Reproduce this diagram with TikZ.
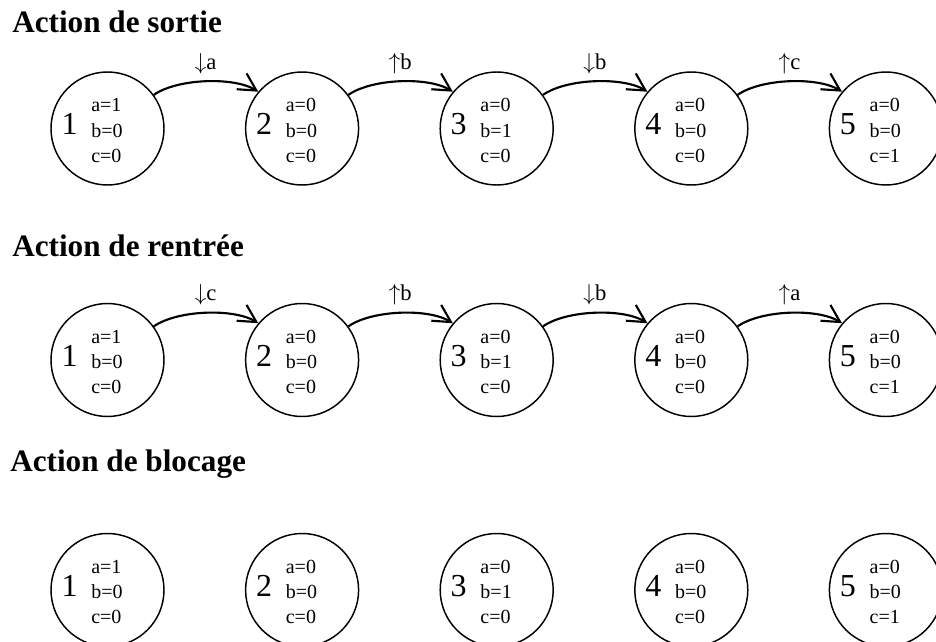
\documentclass[tikz,border=0pt]{standalone}
\usepackage{fontspec}
\setmainfont{Liberation Serif}
\usetikzlibrary{calc,arrows.meta}

\begin{document}
\begin{tikzpicture}[x=0.75pt, y=0.75pt,
    state/.style={circle, draw, line width=1.1pt, minimum size=84.75pt, inner sep=0pt},
    num/.style={anchor=base, font=\fontsize{24}{24}\selectfont, inner sep=0pt},
    vals/.style={anchor=west, align=left, font=\fontsize{15}{19}\selectfont, inner sep=0pt},
    trans/.style={-{Straight Barb[length=13pt,width=14pt]}, line width=1.6pt, out=35, in=148, looseness=0.7},
    lbl/.style={above=5pt, font=\fontsize{17}{17}\selectfont, inner sep=0pt},
    titre/.style={anchor=base west, font=\fontsize{23.4}{23.4}\selectfont\bfseries, inner sep=0pt}]
  \useasboundingbox (0,0) rectangle (936,-642);
  % titles
  \node[titre] (t1) at (12,-33) {Action de sortie};
  \node[titre] (t2) at (12,-256) {Action de rentrée};
  \node[titre] (t3) at (10,-471) {Action de blocage};
  % states, three rows
  \foreach \r/\y in {1/-128.5, 2/-360, 3/-590}{
    \foreach \i/\a/\b/\c in {1/1/0/0, 2/0/0/0, 3/0/1/0, 4/0/0/0, 5/0/0/1}{
      \node[state] (r\r-s\i) at ({107.5+194.6*(\i-1)},\y) {};
      \node[num] (r\r-n\i) at ($(r\r-s\i)+(-38,-6.3)$) {\i};
      \node[vals] (r\r-v\i) at ($(r\r-s\i)+(-16.5,-2)$) {a=\a\\b=\b\\c=\c};
    }
  }
  % transitions (no arrows for blocage)
  \foreach \r/\i/\dir/\v in {1/1/down/a, 1/2/up/b, 1/3/down/b, 1/4/up/c,
                             2/1/down/c, 2/2/up/b, 2/3/down/b, 2/4/up/a}{
    \pgfmathtruncatemacro\j{\i+1}
    \draw[trans] (r\r-s\i.36) to node[lbl] (r\r-l\i) {$\csname\dir arrow\endcsname$\v} (r\r-s\j.140);
  }
\end{tikzpicture}
\end{document}
